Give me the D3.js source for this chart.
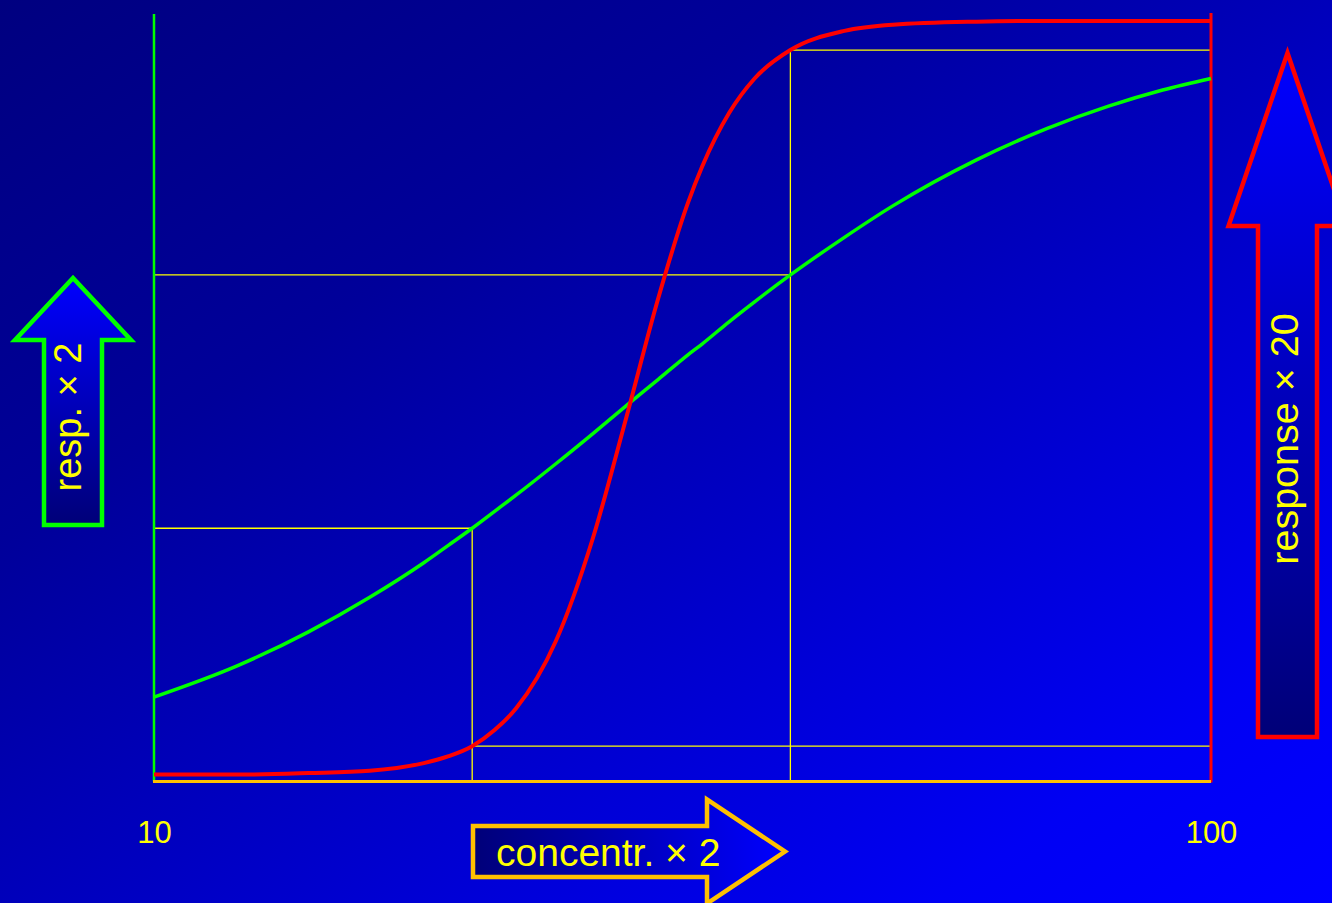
<!DOCTYPE html>
<html>
<head>
<meta charset="utf-8">
<script src="https://cdn.jsdelivr.net/npm/d3@7"></script>
<style>
  html, body { margin: 0; padding: 0; background: #000088; }
  svg { display: block; font-family: "Liberation Sans", Arial, sans-serif; }
</style>
</head>
<body>
<main></main>
<script>
const width = 1332;
const height = 903;
const margin = {top: 14, bottom: 121, left: 154, right: 121};

// concentrations (log axis) and the two responses
const conc = [10, 12, 14, 16, 18, 19, 20, 21, 22, 24, 26, 28, 30, 32, 33, 35, 37, 40, 45, 50, 60, 70, 80, 90, 100];
const respGreen = [11.0, 15.1, 19.5, 24.0, 28.5, 30.8, 33.0, 35.2, 37.3, 41.4, 45.3, 49.0, 52.4, 55.6, 57.0, 59.9, 62.5, 66.0, 70.9, 75.0, 81.0, 85.1, 88.0, 90.1, 91.6];
const respRed = [0.9, 0.9, 1.1, 1.4, 2.4, 3.3, 4.6, 6.7, 9.5, 18.3, 31.6, 47.6, 63.0, 75.4, 80.1, 87.1, 91.6, 95.3, 97.8, 98.6, 99.0, 99.1, 99.1, 99.1, 99.1];
const xTicks = [10, 100];

// the doubling points used for the guide lines
const lowConc = 20;
const highConc = 40;

const x = d3.scaleLog()
    .domain([10, 100])
    .range([margin.left, width - margin.right]);
const y = d3.scaleLinear()
    .domain([0, 100])
    .range([height - margin.bottom - 0.5, margin.top]);

const svg = d3.select("main")
    .append("svg")
        .attr("width", width)
        .attr("height", height);

const defs = svg.append("defs");

const bg = defs.append("linearGradient")
    .attr("id", "bg")
    .attr("x1", 0).attr("y1", 0).attr("x2", 1).attr("y2", 1);
bg.append("stop").attr("offset", 0).attr("stop-color", "#000080");
bg.append("stop").attr("offset", 0.3).attr("stop-color", "#00009a");
bg.append("stop").attr("offset", 0.85).attr("stop-color", "#0000f4");
bg.append("stop").attr("offset", 1).attr("stop-color", "#0000ff");

// arrows: bright blue at the head, navy at the tail
const upFill = defs.append("linearGradient")
    .attr("id", "upFill")
    .attr("x1", 0).attr("y1", 0).attr("x2", 0).attr("y2", 1);
upFill.append("stop").attr("offset", 0).attr("stop-color", "#0000ff");
upFill.append("stop").attr("offset", 1).attr("stop-color", "#000078");

const rightFill = defs.append("linearGradient")
    .attr("id", "rightFill")
    .attr("x1", 0).attr("y1", 0).attr("x2", 1).attr("y2", 0);
rightFill.append("stop").attr("offset", 0).attr("stop-color", "#000078");
rightFill.append("stop").attr("offset", 1).attr("stop-color", "#0000ff");

svg.append("rect")
    .attr("width", width)
    .attr("height", height)
    .attr("fill", "url(#bg)");

const greenAt = c => respGreen[conc.indexOf(c)];
const redAt = c => respRed[conc.indexOf(c)];

// yellow guide lines
const guides = [
    [lowConc, 0, lowConc, greenAt(lowConc)],
    [10, greenAt(lowConc), lowConc, greenAt(lowConc)],
    [10, greenAt(highConc), highConc, greenAt(highConc)],
    [highConc, 0, highConc, redAt(highConc)],
    [lowConc, redAt(lowConc), 100, redAt(lowConc)],
    [highConc, redAt(highConc), 100, redAt(highConc)]
];
svg.append("g")
    .selectAll("line")
    .data(guides)
    .join("line")
        .attr("x1", d => x(d[0]))
        .attr("y1", d => y(d[1]))
        .attr("x2", d => x(d[2]))
        .attr("y2", d => y(d[3]))
        .attr("stroke", "#ffff00")
        .attr("stroke-width", 1.3);

// axes lines
svg.append("line")
    .attr("x1", x(10)).attr("x2", x(10))
    .attr("y1", y(100)).attr("y2", y(0))
    .attr("stroke", "#00ff00").attr("stroke-width", 2.5);
svg.append("line")
    .attr("x1", x(100)).attr("x2", x(100))
    .attr("y1", y(100) - 1).attr("y2", y(0) + 1)
    .attr("stroke", "#ff0000").attr("stroke-width", 3);
svg.append("line")
    .attr("x1", x(10) - 1).attr("x2", x(100))
    .attr("y1", y(0)).attr("y2", y(0))
    .attr("stroke", "#ffc000").attr("stroke-width", 3);

const xAxis = svg.append("g")
    .attr("transform", `translate(0, ${y(0)})`)
    .call(d3.axisBottom(x).tickValues(xTicks).tickSize(0).tickFormat(d3.format("d")));
xAxis.select(".domain").remove();
xAxis.selectAll("text")
    .attr("fill", "#ffff00")
    .attr("font-size", 31)
    .attr("dy", 0)
    .attr("y", 61);

// curves
const line = d3.line()
    .x(d => x(d[0]))
    .y(d => y(d[1]))
    .curve(d3.curveMonotoneX);

svg.append("path")
    .datum(d3.zip(conc, respGreen))
    .attr("d", line)
    .attr("fill", "none")
    .attr("stroke", "#00ff00")
    .attr("stroke-width", 3.5);

svg.append("path")
    .datum(d3.zip(conc, respRed))
    .attr("d", line)
    .attr("fill", "none")
    .attr("stroke", "#ff0000")
    .attr("stroke-width", 4);

// block arrows with labels
function upArrow(cx, tipY, headY, bottomY, shaftHalf, headHalf) {
    return `M${cx},${tipY} L${cx + headHalf},${headY} L${cx + shaftHalf},${headY} L${cx + shaftHalf},${bottomY}`
        + ` L${cx - shaftHalf},${bottomY} L${cx - shaftHalf},${headY} L${cx - headHalf},${headY} Z`;
}

svg.append("path")
    .attr("d", upArrow(73, 278, 340, 525, 29, 58))
    .attr("fill", "url(#upFill)")
    .attr("stroke", "#00ff00")
    .attr("stroke-width", 4.5);
svg.append("text")
    .attr("transform", "translate(81, 417) rotate(-90)")
    .attr("text-anchor", "middle")
    .attr("fill", "#ffff00")
    .attr("font-size", 38)
    .text("resp. × 2");

svg.append("path")
    .attr("d", upArrow(1287.5, 53, 226, 737, 29.5, 59))
    .attr("fill", "url(#upFill)")
    .attr("stroke", "#ff0000")
    .attr("stroke-width", 4.5);
svg.append("text")
    .attr("transform", "translate(1298, 439) rotate(-90)")
    .attr("text-anchor", "middle")
    .attr("fill", "#ffff00")
    .attr("font-size", 39.5)
    .text("response × 20");

const ay = 851.5;
svg.append("path")
    .attr("d", `M473,${ay - 25.5} L707,${ay - 25.5} L707,${ay - 52} L785,${ay} L707,${ay + 52} L707,${ay + 25.5} L473,${ay + 25.5} Z`)
    .attr("fill", "url(#rightFill)")
    .attr("stroke", "#ffc000")
    .attr("stroke-width", 4.5);
svg.append("text")
    .attr("x", 496)
    .attr("y", 866)
    .attr("fill", "#ffff00")
    .attr("font-size", 39)
    .text("concentr. × 2");
</script>
</body>
</html>
